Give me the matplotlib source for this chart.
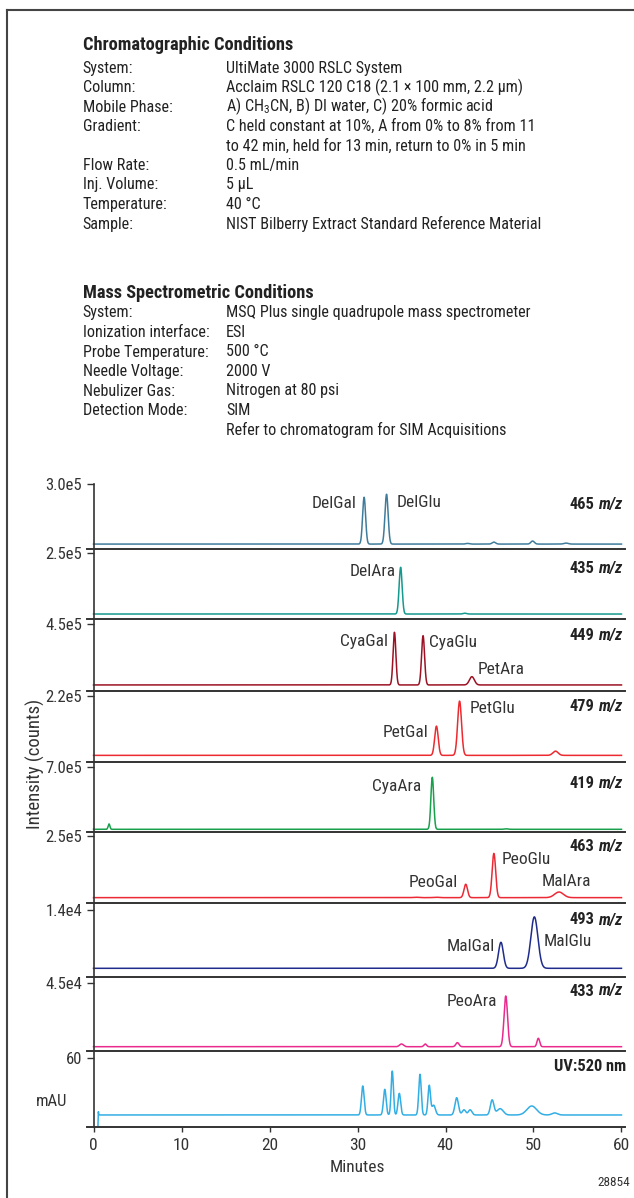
import numpy as np
import matplotlib
matplotlib.use("Agg")
import matplotlib.pyplot as plt
from matplotlib import font_manager as fm
from matplotlib.lines import Line2D

# ---------------- data ----------------
chrom_keys = ["System:", "Column:", "Mobile Phase:", "Gradient:", "", "Flow Rate:",
              "Inj. Volume:", "Temperature:", "Sample:"]
chrom_vals = ["UltiMate 3000 RSLC System",
              "Acclaim RSLC 120 C18 (2.1 \u00d7 100 mm, 2.2 \u00b5m)",
              "A) CH$_\\mathregular{3}$CN, B) DI water, C) 20% formic acid",
              "C held constant at 10%, A from 0% to 8% from 11",
              "to 42 min, held for 13 min, return to 0% in 5 min",
              "0.5 mL/min", "5 \u00b5L", "40 \u00b0C",
              "NIST Bilberry Extract Standard Reference Material"]
ms_keys = ["System:", "Ionization interface:", "Probe Temperature:", "Needle Voltage:",
           "Nebulizer Gas:", "Detection Mode:", ""]
ms_vals = ["MSQ Plus single quadrupole mass spectrometer", "ESI", "500 \u00b0C", "2000 V",
           "Nitrogen at 80 psi", "SIM", "Refer to chromatogram for SIM Acquisitions"]

channels = ["465", "435", "449", "479", "419", "463", "493", "433", "UV:520 nm"]
y_max = [3.0e5, 2.5e5, 4.5e5, 2.2e5, 7.0e5, 2.5e5, 1.4e4, 4.5e4, 60]
y_max_labels = ["3.0e5", "2.5e5", "4.5e5", "2.2e5", "7.0e5", "2.5e5", "1.4e4", "4.5e4", "60"]
baselines = [2.4e4, 2.0e4, 3.9e4, 2.2e4, 3.2e4, 2.0e4, 1760, 2860, 10.2]

# peaks: retention time (min), height above baseline, width (sigma, min)
p465_t = [30.75, 33.3, 42.5, 45.5, 49.9, 53.7]
p465_h = [2.15e5, 2.29e5, 3e3, 9e3, 1.4e4, 4.5e3]
p465_w = [0.17, 0.18, 0.2, 0.2, 0.2, 0.25]

p435_t = [34.9, 42.2]
p435_h = [1.77e5, 3e3]
p435_w = [0.17, 0.2]

p449_t = [34.2, 37.45, 43.0]
p449_h = [3.57e5, 3.34e5, 5.6e4]
p449_w = [0.16, 0.17, 0.28]

p479_t = [38.97, 41.6, 52.5]
p479_h = [9.7e4, 1.8e5, 1.4e4]
p479_w = [0.2, 0.22, 0.3]

p419_t = [1.76, 38.5, 46.9]
p419_h = [5.7e4, 5.55e5, 5e3]
p419_w = [0.1, 0.16, 0.2]

p463_t = [36.6, 38.9, 42.3, 45.5, 52.9]
p463_h = [1.5e3, 1.5e3, 5.0e4, 1.65e5, 2.1e4]
p463_w = [0.3, 0.3, 0.2, 0.2, 0.5]

p493_t = [46.3, 50.1]
p493_h = [5460, 1.08e4]
p493_w = [0.27, 0.4]

p433_t = [35.0, 37.7, 41.35, 46.85, 50.55]
p433_h = [1.8e3, 1.8e3, 2.7e3, 3.37e4, 5.6e3]
p433_w = [0.22, 0.15, 0.18, 0.2, 0.15]

uv_t = [30.6, 33.1, 33.95, 34.75, 37.1, 38.15, 38.65, 41.27, 42.1, 42.8, 45.3, 46.2, 49.8, 52.4]
uv_h = [25.2, 22.3, 38.2, 18.8, 35.4, 25.5, 8.5, 15.0, 4.5, 4.5, 13.0, 5.5, 7.8, 1.8]
uv_w = [0.15, 0.15, 0.13, 0.15, 0.14, 0.14, 0.2, 0.2, 0.2, 0.2, 0.2, 0.35, 0.55, 0.3]
uv_start_t = [0.5, 0.55]          # injection disturbance
uv_start_y = [0.0, 13.0]

peak_sets = [(p465_t, p465_h, p465_w), (p435_t, p435_h, p435_w), (p449_t, p449_h, p449_w),
             (p479_t, p479_h, p479_w), (p419_t, p419_h, p419_w), (p463_t, p463_h, p463_w),
             (p493_t, p493_h, p493_w), (p433_t, p433_h, p433_w), (uv_t, uv_h, uv_w)]

peak_names = [["DelGal", "DelGlu"], ["DelAra"], ["CyaGal", "CyaGlu", "PetAra"],
              ["PetGal", "PetGlu"], ["CyaAra"], ["PeoGal", "PeoGlu", "MalAra"],
              ["MalGal", "MalGlu"], ["PeoAra"], []]

x_ticks = [0, 10, 20, 30, 40, 50, 60]

# ---------------- style / layout ----------------
colors = ["#3f7c9c", "#14998e", "#9c1224", "#ec2a2f", "#18a04c", "#ec2a35",
          "#1f2c8c", "#ea2a8c", "#32aee4"]

# label anchor (time), vertical axes fraction, alignment
label_pos = [[(29.9, 0.694, "right"), (34.4, 0.724, "left")],
             [(34.3, 0.717, "right")],
             [(33.5, 0.738, "right"), (38.1, 0.723, "left"), (43.7, 0.312, "left")],
             [(38.0, 0.442, "right"), (42.7, 0.81, "left")],
             [(37.3, 0.70, "right")],
             [(41.4, 0.303, "right"), (46.4, 0.652, "left"), (50.9, 0.328, "left")],
             [(45.6, 0.46, "right"), (51.2, 0.525, "left")],
             [(45.9, 0.728, "right")],
             []]
tops = [484, 553.3, 624.3, 695.7, 766.7, 836, 910, 983.3, 1057.7]
bottoms = [549.3, 619.3, 690.7, 762, 832.3, 903, 976.7, 1051, 1126.7]
mz_offset = [20, 15, 11.7, 11, 16.6, 10.7, 10, 7.7, 9]

W, H = 634, 1198
L_PX, R_PX = 86.5, 625.0
XMIN, XMAX = -0.8, 60.4

# ---------------- font selection ----------------
names = {f.name for f in fm.fontManager.ttflist}
FONT, STRETCH, S = None, "normal", 1.0
for cand in ["Roboto Condensed", "Liberation Sans Narrow", "Noto Sans Condensed",
             "Open Sans Condensed", "DejaVu Sans Condensed", "Arial Narrow"]:
    if cand in names:
        FONT = cand
        break
if FONT is None:
    for fam in ["Roboto", "Noto Sans", "Open Sans", "DejaVu Sans"]:
        ents = [f for f in fm.fontManager.ttflist
                if f.name == fam and str(f.stretch) in ("condensed", "semi-condensed")]
        if ents:
            FONT, STRETCH = fam, "condensed"
            break
if FONT is None:
    FONT, S = "Liberation Sans", 0.86

plt.rcParams["font.family"] = [FONT, "DejaVu Sans"]
plt.rcParams["font.stretch"] = STRETCH
TXT = "#222222"
BODY = 11.6 * S
HEAD = 13.2 * S

fig = plt.figure(figsize=(W / 100, H / 100), dpi=100)


def fy(ypx):
    return 1 - ypx / H


# border
fig.add_artist(Line2D([7 / W, 7 / W], [0, fy(10)], color="#444444", lw=1.5))
fig.add_artist(Line2D([7 / W, 1], [fy(10), fy(10)], color="#444444", lw=1.5))

# condition text block
fig.text(82.7 / W, fy(49.5), "Chromatographic Conditions", fontsize=HEAD,
         fontweight="bold", color=TXT, va="baseline")
for i, (k, v) in enumerate(zip(chrom_keys, chrom_vals)):
    yb = 72.5 + 19.5 * i
    fig.text(82.7 / W, fy(yb), k, fontsize=BODY, color=TXT, va="baseline")
    fig.text(226 / W, fy(yb), v, fontsize=BODY, color=TXT, va="baseline")

fig.text(82.7 / W, fy(298), "Mass Spectrometric Conditions", fontsize=HEAD,
         fontweight="bold", color=TXT, va="baseline")
for i, (k, v) in enumerate(zip(ms_keys, ms_vals)):
    yb = 317.5 + 19.5 * i
    fig.text(82.7 / W, fy(yb), k, fontsize=BODY, color=TXT, va="baseline")
    fig.text(226 / W, fy(yb), v, fontsize=BODY, color=TXT, va="baseline")

# chromatograms
t = np.linspace(0, 60, 4001)
x0_px = L_PX + (0 - XMIN) / (XMAX - XMIN) * (R_PX - L_PX)
axes = []
for i in range(9):
    top, bot = tops[i], bottoms[i]
    ax = fig.add_axes([L_PX / W, fy(bot), (R_PX - L_PX) / W, (bot - top) / H])
    axes.append(ax)
    times, heights, widths = peak_sets[i]
    y = np.full_like(t, baselines[i])
    for c, h, w in zip(times, heights, widths):
        y = y + h * np.exp(-0.5 * ((t - c) / w) ** 2)
    if i == 8:
        m = t >= 0.6
        tt = np.concatenate([uv_start_t, t[m]])
        yy = np.concatenate([uv_start_y, y[m]])
        ax.plot(tt, yy, color=colors[i], lw=1.1, solid_joinstyle="round")
    else:
        ax.plot(t, y, color=colors[i], lw=1.1, solid_joinstyle="round")
    ax.set_xlim(XMIN, XMAX)
    ax.set_ylim(0, y_max[i])
    ax.patch.set_alpha(0)
    for sp in ["top", "right"]:
        ax.spines[sp].set_visible(False)
    ax.spines["left"].set_position(("data", 0))
    ax.spines["left"].set_visible(False)
    ax.spines["bottom"].set_linewidth(1.4)
    ax.spines["bottom"].set_color("#333333")
    ax.set_yticks([y_max[i]])
    ax.set_yticklabels([y_max_labels[i]])
    ax.tick_params(axis="y", direction="out", length=5, width=1.0, color="#333333",
                   pad=3.2, labelsize=12 * S, labelcolor="#333333")
    if i < 8:
        ax.set_xticks([])
    else:
        ax.set_xticks(x_ticks)
        ax.tick_params(axis="x", direction="out", length=3.8, width=1.0, color="#333333",
                       pad=4.5, labelsize=12.5 * S, labelcolor="#333333")
    # peak labels
    for name, (tx, yf, ha) in zip(peak_names[i], label_pos[i]):
        ax.text(tx, yf * y_max[i], name, ha=ha, va="center", fontsize=12.5 * S,
                color="#333333")
    # channel labels
    yfrac = 1 - mz_offset[i] / (bot - top)
    if i < 8:
        t1 = ax.text((622.7 - L_PX) / (R_PX - L_PX), yfrac, "m/z", transform=ax.transAxes,
                     ha="right", va="center", fontsize=11.8 * S, fontweight="bold",
                     fontstyle="italic", color=TXT)
        ax.annotate(channels[i], xy=(0, 0), xycoords=t1, xytext=(-3.2, 0),
                    textcoords="offset points", ha="right", va="bottom",
                    fontsize=11.8 * S, fontweight="bold", color=TXT)
    else:
        ax.text((626 - L_PX) / (R_PX - L_PX), yfrac, channels[i], transform=ax.transAxes,
                ha="right", va="center", fontsize=11.8 * S, fontweight="bold", color=TXT)

# continuous vertical axis line
fig.add_artist(Line2D([x0_px / W, x0_px / W], [fy(tops[0]), fy(bottoms[-1])],
                      color="#333333", lw=1.2))

fig.text(35 / W, fy(764), "Intensity (counts)", rotation=90, ha="center", va="center",
         fontsize=13.5 * S, color="#333333")
fig.text(52 / W, fy(1101.7), "mAU", ha="center", va="center", fontsize=12 * S,
         color="#333333")
fig.text(357.7 / W, fy(1168), "Minutes", ha="center", va="center", fontsize=12.5 * S,
         color="#333333")
fig.text(630 / W, fy(1182), "28854", ha="right", va="center", fontsize=9.5 * S,
         color="#333333")

fig.savefig("out.png", dpi=100)
